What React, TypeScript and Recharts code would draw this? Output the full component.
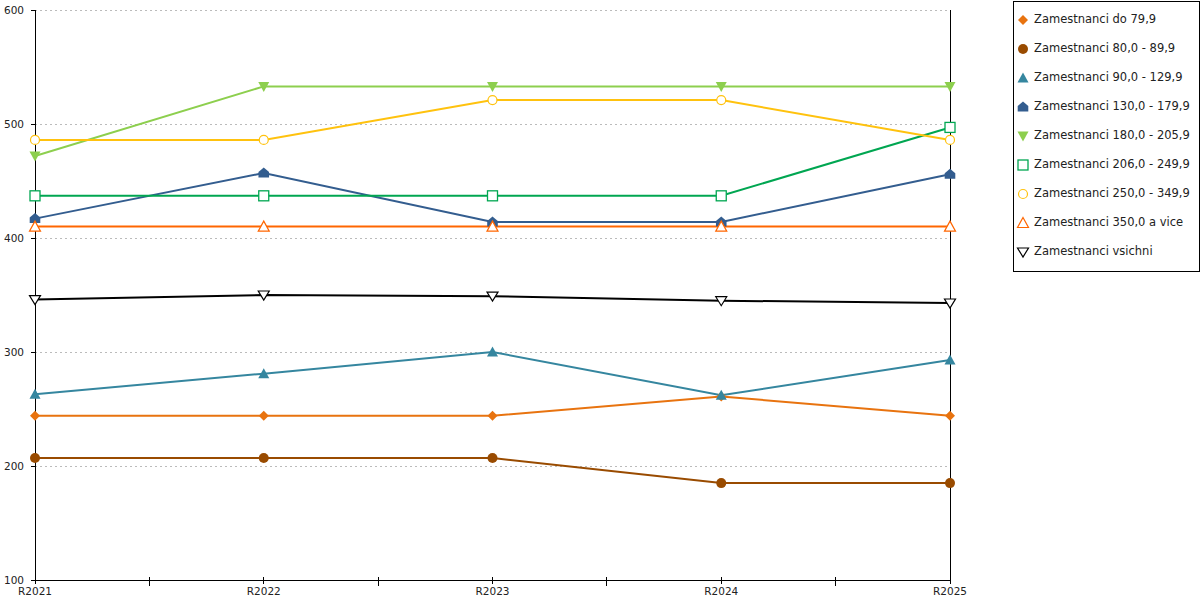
import React from 'react'
import { LineChart, Line, XAxis, YAxis, CartesianGrid, ReferenceLine } from 'recharts'

// categories and tick values
const years = ['R2021', 'R2022', 'R2023', 'R2024', 'R2025']
const xTicks = [0, 0.5, 1, 1.5, 2, 2.5, 3, 3.5, 4]
const yTicks = [100, 200, 300, 400, 500, 600]

// series values
const do79 = [244, 244, 244, 261, 244]
const s80 = [207, 207, 207, 185, 185]
const s90 = [263, 281, 300, 262, 293]
const s130 = [417, 457, 414, 414, 456]
const s180 = [472, 533, 533, 533, 533]
const s206 = [437, 437, 437, 437, 497]
const s250 = [486, 486, 521, 521, 486]
const s350 = [410, 410, 410, 410, 410]
const vsichni = [346, 350, 349, 345, 343]

const data = years.map((label, i) => ({
  x: i,
  label,
  do79: do79[i],
  s80: s80[i],
  s90: s90[i],
  s130: s130[i],
  s180: s180[i],
  s206: s206[i],
  s250: s250[i],
  s350: s350[i],
  vsichni: vsichni[i],
}))

type Shape = 'diamond' | 'circle' | 'triUp' | 'house' | 'triDown' | 'square' | 'ring' | 'triUpOpen' | 'triDownOpen'

const marker = (shape: Shape, color: string, cx: number, cy: number, key?: string) => {
  switch (shape) {
    case 'diamond':
      return <path key={key} d={`M${cx},${cy - 5}L${cx + 5},${cy}L${cx},${cy + 5}L${cx - 5},${cy}Z`} fill={color} />
    case 'circle':
      return <circle key={key} cx={cx} cy={cy} r={5} fill={color} />
    case 'triUp':
      return <path key={key} d={`M${cx},${cy - 5.5}L${cx + 5.5},${cy + 4.5}L${cx - 5.5},${cy + 4.5}Z`} fill={color} />
    case 'house':
      return (
        <path
          key={key}
          d={`M${cx},${cy - 5.5}L${cx + 5.3},${cy - 1}L${cx + 5.3},${cy + 4.5}L${cx - 5.3},${cy + 4.5}L${cx - 5.3},${cy - 1}Z`}
          fill={color}
        />
      )
    case 'triDown':
      return <path key={key} d={`M${cx - 5.5},${cy - 4.5}L${cx + 5.5},${cy - 4.5}L${cx},${cy + 5.5}Z`} fill={color} />
    case 'square':
      return <rect key={key} x={cx - 5} y={cy - 5} width={10} height={10} fill="#fff" stroke={color} strokeWidth={1.3} />
    case 'ring':
      return <circle key={key} cx={cx} cy={cy} r={4.5} fill="#fff" stroke={color} strokeWidth={1.2} />
    case 'triUpOpen':
      return (
        <path key={key} d={`M${cx},${cy - 5.5}L${cx + 5.5},${cy + 4.5}L${cx - 5.5},${cy + 4.5}Z`} fill="#fff" stroke={color} strokeWidth={1.2} />
      )
    case 'triDownOpen':
      return (
        <path key={key} d={`M${cx - 5.5},${cy - 4}L${cx + 5.5},${cy - 4}L${cx},${cy + 5}Z`} fill="#fff" stroke={color} strokeWidth={1.2} />
      )
  }
}

const series: { key: string; name: string; color: string; shape: Shape }[] = [
  { key: 'do79', name: 'Zamestnanci do 79,9', color: '#e8730f', shape: 'diamond' },
  { key: 's80', name: 'Zamestnanci 80,0 - 89,9', color: '#994b00', shape: 'circle' },
  { key: 's90', name: 'Zamestnanci 90,0 - 129,9', color: '#35869f', shape: 'triUp' },
  { key: 's130', name: 'Zamestnanci 130,0 - 179,9', color: '#335d8f', shape: 'house' },
  { key: 's180', name: 'Zamestnanci 180,0 - 205,9', color: '#8dcf4e', shape: 'triDown' },
  { key: 's206', name: 'Zamestnanci 206,0 - 249,9', color: '#00a651', shape: 'square' },
  { key: 's250', name: 'Zamestnanci 250,0 - 349,9', color: '#ffc20e', shape: 'ring' },
  { key: 's350', name: 'Zamestnanci 350,0 a vice', color: '#ff6600', shape: 'triUpOpen' },
  { key: 'vsichni', name: 'Zamestnanci vsichni', color: '#000000', shape: 'triDownOpen' },
]

const XTick = (props: any) => {
  const { x, y, payload } = props
  const v = payload.value
  const isMajor = Number.isInteger(v)
  return (
    <g>
      <line x1={x} x2={x} y1={y - 3} y2={y + (isMajor ? 4 : 5.5)} stroke="#000" shapeRendering="crispEdges" />
      {isMajor && (
        <text x={x} y={y + 15} textAnchor="middle" fontSize={10.5} fill="#222">
          {years[v]}
        </text>
      )}
    </g>
  )
}

const Legend = () => (
  <div
    style={{
      position: 'absolute',
      left: 1013,
      top: 1,
      width: 185,
      height: 269,
      border: '1px solid #000',
      background: '#fff',
      fontFamily: 'DejaVu Sans',
      fontSize: 11.5,
      color: '#222',
    }}
  >
    {series.map((s, i) => (
      <div key={s.key} style={{ position: 'absolute', left: 0, top: 3 + i * 29, height: 29, width: 185 }}>
        <svg width={14} height={14} style={{ position: 'absolute', left: 2, top: 7.5 }}>
          {marker(s.shape, s.color, 7, 7)}
        </svg>
        <span style={{ position: 'absolute', left: 20, top: 7, whiteSpace: 'nowrap', lineHeight: '14px' }}>{s.name}</span>
      </div>
    ))}
  </div>
)

export default function App() {
  return (
    <div style={{ position: 'absolute', left: 0, top: 0, width: 1200, height: 600, background: '#fff' }}>
      <LineChart
        width={1200}
        height={600}
        data={data}
        margin={{ top: 10, right: 250, left: 0, bottom: 0 }}
        style={{ fontFamily: 'DejaVu Sans' }}
      >
        <CartesianGrid vertical={false} stroke="#bbb" strokeDasharray="2 3" shapeRendering="crispEdges" />
        <XAxis
          dataKey="x"
          type="number"
          domain={[0, 4]}
          ticks={xTicks}
          interval={0}
          height={20}
          tickLine={false}
          tickSize={0}
          tickMargin={0}
          axisLine={{ stroke: '#000', shapeRendering: 'crispEdges' }}
          tick={<XTick />}
        />
        <YAxis
          type="number"
          domain={[100, 600]}
          ticks={yTicks}
          interval={0}
          width={35}
          tickSize={4}
          tickMargin={7}
          axisLine={{ stroke: '#000', shapeRendering: 'crispEdges' }}
          tickLine={{ stroke: '#000', shapeRendering: 'crispEdges' }}
          tick={{ fontSize: 10.5, fill: '#222' }}
        />
        <ReferenceLine x={4} stroke="#000" shapeRendering="crispEdges" />
        {series.map((s) => (
          <Line
            key={s.key}
            dataKey={s.key}
            name={s.name}
            type="linear"
            stroke={s.color}
            strokeWidth={2}
            isAnimationActive={false}
            activeDot={false}
            dot={(p: any) => marker(s.shape, s.color, p.cx, p.cy, `${s.key}-${p.index}`)}
          />
        ))}
      </LineChart>
      <Legend />
    </div>
  )
}
